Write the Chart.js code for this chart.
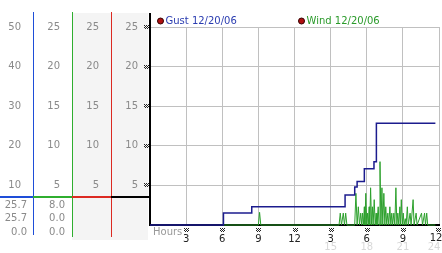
<!DOCTYPE html>
<html>
<head>
<meta charset="utf-8">
<script src="https://cdn.jsdelivr.net/npm/chart.js@4.4.0/dist/chart.umd.min.js"></script>
<style>
html, body { margin: 0; padding: 0; background: #fff; }
</style>
</head>
<body>
<canvas id="windChart" width="442" height="253"></canvas>
<script>
const seriesNames = ['Gust 12/20/06', 'Wind 12/20/06'];

// gust: hour where each new step starts, value on the 0-50 scale
const gustHours = [0, 6.1, 8.45, 16.2, 17.0, 17.2, 17.8, 18.6, 18.8, 23.7];
const gustSpeed = [0, 3.0, 4.6, 7.6, 9.6, 11.0, 14.2, 16.0, 25.7, 25.7];

// wind: samples on the 0-25 scale
const windHours = [6.1, 9.0, 9.1, 9.2, 15.7, 15.8, 15.9, 16.05, 16.15, 16.25, 16.35,
  17.0, 17.1, 17.2, 17.3, 17.4, 17.5, 17.58, 17.65, 17.72, 17.8, 17.85, 17.92, 18.0,
  18.07, 18.13, 18.2, 18.25, 18.32, 18.4, 18.47, 18.53, 18.62, 18.7, 18.78, 18.85,
  18.95, 19.02, 19.1, 19.18, 19.26, 19.33, 19.42, 19.5, 19.58, 19.66, 19.75, 19.83,
  19.92, 20.0, 20.08, 20.15, 20.25, 20.33, 20.42, 20.5, 20.58, 20.66, 20.75, 20.8,
  20.87, 20.95, 21.03, 21.1, 21.2, 21.27, 21.37, 21.45, 21.6, 21.68, 21.85, 21.93,
  22.1, 22.18, 22.55, 22.63, 22.8, 22.88, 22.98, 23.06, 23.7];
const windSpeed = [0, 0, 1.6, 0, 0, 1.5, 0, 1.5, 0, 1.5, 0,
  0, 4.0, 0, 2.3, 0, 1.5, 0, 1.5, 0, 2.3, 0, 4.0, 0,
  1.5, 0, 2.3, 0, 4.7, 0, 2.3, 0, 3.2, 0, 1.5, 0,
  2.3, 0, 8.0, 0, 4.7, 0, 4.0, 0, 2.3, 0, 1.5, 0,
  2.3, 0, 1.5, 0, 1.5, 0, 4.7, 0, 1.5, 0, 2.3, 0,
  3.2, 0, 1.5, 0, 0.8, 0, 2.3, 0, 1.5, 0, 3.2, 0,
  1.5, 0, 1.5, 0, 1.5, 0, 1.5, 0, 0];

const hourTicks = [0, 3, 6, 9, 12, 15, 18, 21, 24];
const hourLabels = ['', '3', '6', '9', '12', '3', '6', '9', '12'];
const hourLabels24 = ['', '', '', '', '', '15', '18', '21', '24'];
const gustTicks = [0, 10, 20, 30, 40, 50];
const windTicks = [0, 5, 10, 15, 20, 25];
const gustReadout = ['25.7', '25.7', '0.0'];
const windReadout = ['8.0', '0.0', '0.0'];

Chart.defaults.font.family = "'DejaVu Sans', Verdana, sans-serif";
Chart.defaults.font.size = 10;

function tickMark(ctx, x, y) {
  ctx.fillStyle = '#222';
  for (let i = 0; i < 5; i++) {
    for (let j = 0; j < 4; j++) {
      if ((i + j) % 2 === 0) ctx.fillRect(Math.round(x) - 2 + i, Math.round(y) - 2 + j, 1, 1);
    }
  }
}

const panel = {
  id: 'panel',
  beforeDraw(chart) {
    const ctx = chart.ctx;
    const r = chart.scales.r;
    ctx.save();
    ctx.fillStyle = '#f4f4f4';
    ctx.fillRect(r.left, 13, chart.chartArea.left - 2 - r.left, 227);
    ctx.restore();
  },
  afterDraw(chart) {
    const ctx = chart.ctx;
    const { g, w, r, k, x } = chart.scales;
    const left = chart.chartArea.left;
    ctx.save();

    // coloured column lines
    const cols = [[g, '#1e4ed8', 235], [w, '#2fae2f', 237], [r, '#dc2a22', 237]];
    cols.forEach(([s, c, bottom]) => {
      ctx.fillStyle = c;
      ctx.fillRect(Math.round(s.right), 12, 1, bottom - 12);
    });
    ctx.fillStyle = '#000';
    ctx.fillRect(left - 1, 13, 2, chart.chartArea.top - 13);

    // divider between scales and readouts
    const segs = [[0, g.right, '#1e4ed8'], [g.right, w.right, '#2fae2f'], [w.right, r.right, '#dc2a22'], [r.right, left, '#000']];
    segs.forEach(([a, b, c]) => {
      ctx.fillStyle = c;
      ctx.fillRect(a, 196, b - a, 2);
    });

    // readouts
    ctx.font = "10px 'DejaVu Sans'";
    ctx.fillStyle = '#8a8a8a';
    ctx.textAlign = 'right';
    ctx.textBaseline = 'middle';
    const rows = [205, 218, 232];
    rows.forEach((y, i) => {
      ctx.fillText(gustReadout[i], g.right - 6, y);
      ctx.fillText(windReadout[i], w.right - 7, y);
    });

    // legend
    const items = [[160.5, '#2a3cb0'], [301.5, '#2a9a2a']];
    items.forEach(([cx, c], i) => {
      ctx.beginPath();
      ctx.arc(cx, 21, 3, 0, Math.PI * 2);
      ctx.fillStyle = '#b01010';
      ctx.fill();
      ctx.strokeStyle = '#300';
      ctx.lineWidth = 1;
      ctx.stroke();
      ctx.fillStyle = c;
      ctx.textAlign = 'left';
      ctx.fillText(chart.data.datasets[i].label, cx + 5, 21);
    });

    // hours caption, last hour label and faint 24h labels
    ctx.fillStyle = '#999';
    ctx.fillText('Hours', 153, 232);
    ctx.fillStyle = '#222';
    ctx.textAlign = 'center';
    ctx.fillText(hourLabels[hourLabels.length - 1], 436, 238);
    ctx.fillStyle = '#d8d8d8';
    hourTicks.forEach((h, i) => {
      if (hourLabels24[i]) ctx.fillText(hourLabels24[i], Math.min(x.getPixelForValue(h), 434), 247);
    });

    // little tick glyphs
    windTicks.forEach(v => { if (v) tickMark(ctx, 146, k.getPixelForValue(v)); });
    hourTicks.forEach(h => { if (h) tickMark(ctx, Math.min(x.getPixelForValue(h), 438), 230); });
    ctx.restore();
  }
};

function yAxis(weight, max, ticks, showGrid) {
  return {
    position: 'left',
    weight: weight,
    min: 0,
    max: max,
    afterBuildTicks: a => { a.ticks = ticks.map(v => ({ value: v })); },
    afterFit: a => { a.width = weight === 4 ? 33 : 39; },
    ticks: { color: '#8a8a8a', padding: 12, callback: v => v === 0 ? '' : v },
    grid: { display: showGrid, color: '#c0c0c0', drawTicks: false },
    border: { display: showGrid, color: '#000', width: 2 }
  };
}

new Chart(document.getElementById('windChart'), {
  type: 'line',
  data: {
    datasets: [{
      label: seriesNames[0],
      data: gustHours.map((h, i) => ({ x: h, y: gustSpeed[i] })),
      yAxisID: 'g',
      stepped: 'before',
      borderColor: '#1c1c8e',
      borderWidth: 1.5,
      pointRadius: 0,
      clip: false,
      order: 1
    }, {
      label: seriesNames[1],
      data: windHours.map((h, i) => ({ x: h, y: windSpeed[i] })),
      yAxisID: 'w',
      borderColor: '#2ca02c',
      borderWidth: 1,
      pointRadius: 0,
      tension: 0,
      clip: false,
      order: 2
    }]
  },
  options: {
    responsive: false,
    animation: false,
    layout: { padding: { top: 27, right: 3 } },
    plugins: { legend: { display: false }, tooltip: { enabled: false } },
    scales: {
      x: {
        type: 'linear',
        min: 0,
        max: 24,
        afterBuildTicks: a => { a.ticks = hourTicks.map(v => ({ value: v })); },
        afterFit: a => { a.height = 28; a.paddingLeft = 0; a.paddingRight = 0; },
        ticks: {
          color: '#222',
          padding: 8,
          maxRotation: 0,
          autoSkip: false,
          // the last label is drawn by the panel plugin so it is not cut off
          callback: v => v === 24 ? '' : (hourLabels[hourTicks.indexOf(v)] || '')
        },
        grid: { color: '#c0c0c0', drawTicks: false },
        border: { color: '#000', width: 2 }
      },
      g: yAxis(4, 50, gustTicks, false),
      w: yAxis(3, 25, windTicks, false),
      r: yAxis(2, 25, windTicks, false),
      k: yAxis(1, 25, windTicks, true)
    }
  },
  plugins: [panel]
});
</script>
</body>
</html>
